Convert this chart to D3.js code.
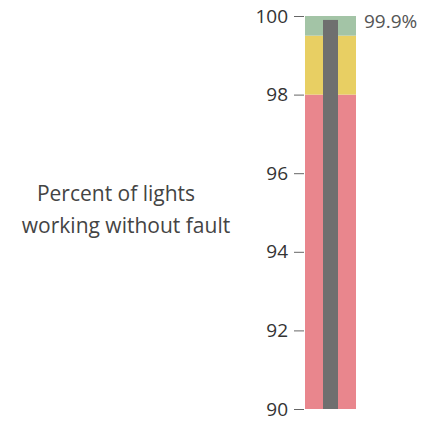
<!DOCTYPE html>
<html><head><meta charset="utf-8">
<script src="https://cdn.jsdelivr.net/npm/d3@7"></script>
<style>body{margin:0;background:#fff}svg{display:block}</style>
</head><body>
<svg id="c" width="423" height="422"></svg>
<script>
const titleLines = ["Percent of lights", "working without fault"];
const rangeBands = [{from: 90, to: 98}, {from: 98, to: 99.5}, {from: 99.5, to: 100}];
const rangeColors = ["#e9868d", "#e8cf63", "#a3c4a6"];
const measureValues = [99.9];
const tickValues = [90, 92, 94, 96, 98, 100];
const domain = [90, 100];

const svg = d3.select("#c");
const y = d3.scaleLinear().domain(domain).range([409, 16]);
const barX = 305, barW = 51;
const mX = 323, mW = 15;

svg.append("g").selectAll("rect").data(rangeBands).join("rect")
  .attr("x", barX).attr("width", barW)
  .attr("y", d => y(d.to)).attr("height", d => y(d.from) - y(d.to))
  .attr("fill", (d, i) => rangeColors[i]);

svg.append("g").selectAll("rect").data(measureValues).join("rect")
  .attr("x", mX).attr("width", mW)
  .attr("y", d => y(d)).attr("height", d => y(domain[0]) - y(d))
  .attr("fill", "#6f6f6f");

const axis = d3.axisLeft(y).tickValues(tickValues).tickSize(10).tickPadding(6).tickFormat(d3.format("d"));
const ag = svg.append("g").attr("transform", `translate(${barX - 1},0)`).call(axis);
ag.select(".domain").remove();
ag.selectAll(".tick line").attr("stroke", "#666");
ag.selectAll(".tick text").attr("fill", "#333").attr("dy", "0.32em")
  .style("font-family", "'Open Sans', sans-serif").style("font-size", "19px");

svg.append("text").attr("x", 364).attr("y", y(domain[1]) + 12)
  .attr("fill", "#555").style("font-family", "'Open Sans', sans-serif").style("font-size", "19px")
  .text(d3.format(".1f")(measureValues[0]) + "%");

const tx = [116, 126], ty = [201, 233];
svg.append("g").selectAll("text").data(titleLines).join("text")
  .attr("x", (d, i) => tx[i]).attr("y", (d, i) => ty[i])
  .attr("text-anchor", "middle").attr("fill", "#444")
  .style("font-family", "'Open Sans', sans-serif").style("font-size", "21px")
  .text(d => d);
</script>
</body></html>
